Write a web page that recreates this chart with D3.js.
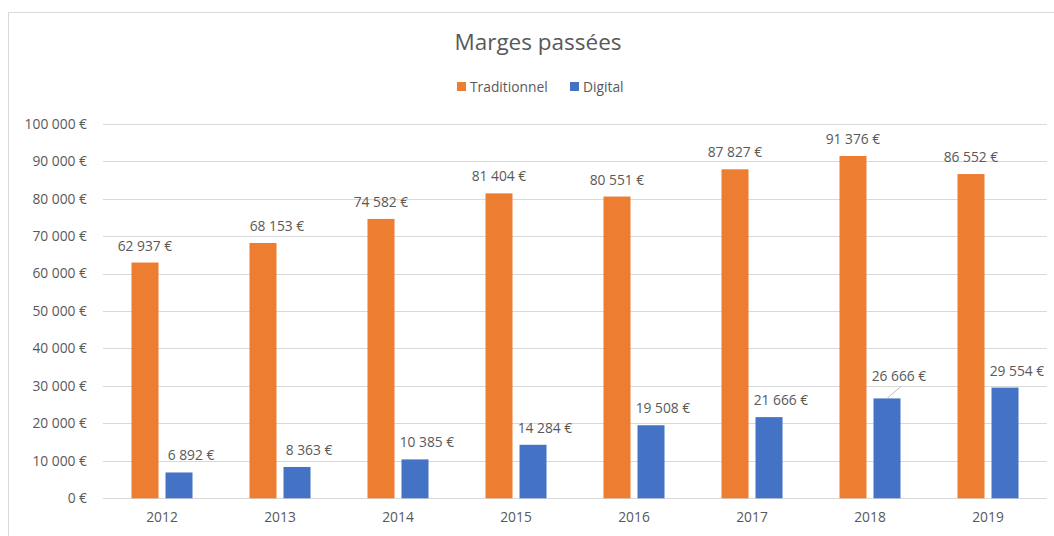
<!DOCTYPE html>
<html>
<head>
<meta charset="utf-8">
<title>Marges passées</title>
<script src="https://cdn.jsdelivr.net/npm/d3@7"></script>
<style>
  body { margin: 0; background: #fff; }
  text { font-family: "Open Sans", sans-serif; fill: #595959; }
</style>
</head>
<body>
<svg id="chart" width="1054" height="536"></svg>
<script>
// data
const years = ["2012", "2013", "2014", "2015", "2016", "2017", "2018", "2019"];
const series = ["Traditionnel", "Digital"];
const traditionnel = [62937, 68153, 74582, 81404, 80551, 87827, 91376, 86552];
const digital = [6892, 8363, 10385, 14284, 19508, 21666, 26666, 29554];
const yTicks = [0, 10000, 20000, 30000, 40000, 50000, 60000, 70000, 80000, 90000, 100000];
const colors = ["#ED7D31", "#4472C4"];

const svg = d3.select("#chart");
const W = +svg.attr("width"), H = +svg.attr("height");
const margin = { top: 123.7, right: 7, bottom: 37.7, left: 103 };
const fs = "13.8px";

// chart frame
svg.append("rect")
  .attr("x", 8.5).attr("y", 12.5)
  .attr("width", W).attr("height", H)
  .attr("fill", "none").attr("stroke", "#d9d9d9");

const fr = d3.formatLocale({ decimal: ",", thousands: "\u00a0", grouping: [3], currency: ["", ""] });
const euro = v => fr.format(",.0f")(v) + "\u00a0€";

const x0 = d3.scaleBand().domain(years).range([margin.left, W - margin.right]);
const x1 = d3.scaleBand().domain(series).range([0, x0.bandwidth()])
  .paddingInner(0.206).paddingOuter(0.838);
const y = d3.scaleLinear().domain([0, 100000]).range([H - margin.bottom, margin.top]);

// gridlines
svg.append("g").selectAll("line").data(yTicks).join("line")
  .attr("x1", margin.left).attr("x2", W - margin.right)
  .attr("y1", d => Math.round(y(d)) + 0.5).attr("y2", d => Math.round(y(d)) + 0.5)
  .attr("stroke", "#d9d9d9");

// y axis labels
const yAxis = d3.axisLeft(y).tickValues(yTicks).tickFormat(euro).tickSize(0).tickPadding(16);
svg.append("g").attr("transform", `translate(${margin.left},0)`).call(yAxis)
  .call(g => g.select(".domain").remove())
  .selectAll("text").style("font-size", fs).attr("fill", "#595959");

// x axis labels
const xAxis = d3.axisBottom(x0).tickSize(0).tickPadding(14);
svg.append("g").attr("transform", `translate(0,${H - margin.bottom})`).call(xAxis)
  .call(g => g.select(".domain").remove())
  .selectAll("text").style("font-size", fs).attr("fill", "#595959");

const rows = years.map((yr, i) => ({ year: yr, values: [traditionnel[i], digital[i]] }));

const groups = svg.append("g").selectAll("g").data(rows).join("g")
  .attr("transform", d => `translate(${x0(d.year)},0)`);

groups.selectAll("rect").data(d => d.values.map((v, k) => ({ key: series[k], k, v, year: d.year })))
  .join("rect")
  .attr("x", d => x1(d.key))
  .attr("width", x1.bandwidth())
  .attr("y", d => y(d.v))
  .attr("height", d => y(0) - y(d.v))
  .attr("fill", d => colors[d.k]);

// data labels (Digital ones sit a little to the right, like the original)
groups.selectAll("text.lbl").data(d => d.values.map((v, k) => ({ key: series[k], k, v, year: d.year })))
  .join("text")
  .attr("class", "lbl")
  .attr("x", d => x1(d.key) + x1.bandwidth() / 2 + (d.k === 1 ? 12 : (d.year === "2013" ? 14 : 0)))
  .attr("y", d => y(d.v) - 12 - (d.year === "2018" && d.k === 1 ? 5 : 0))
  .attr("text-anchor", "middle")
  .style("font-size", fs)
  .text(d => euro(d.v));

// leader line for the moved 2018 label
const ly = y(digital[6]);
svg.append("line")
  .attr("x1", x0("2018") + x1("Digital") + x1.bandwidth() / 2).attr("y1", ly)
  .attr("x2", x0("2018") + x1("Digital") + x1.bandwidth() / 2 + 14).attr("y2", ly - 12)
  .attr("stroke", "#bfbfbf");

// title
svg.append("text")
  .attr("x", 538).attr("y", 50)
  .attr("text-anchor", "middle")
  .style("font-size", "22.5px")
  .text("Marges passées");

// legend
const legend = svg.append("g").attr("transform", "translate(457,82)");
const lx = [0, 113];
series.forEach((s, i) => {
  const item = legend.append("g").attr("transform", `translate(${lx[i]},0)`);
  item.append("rect").attr("width", 9).attr("height", 9).attr("fill", colors[i]);
  item.append("text").attr("x", 13).attr("y", 10).style("font-size", fs).text(s);
});
</script>
</body>
</html>
